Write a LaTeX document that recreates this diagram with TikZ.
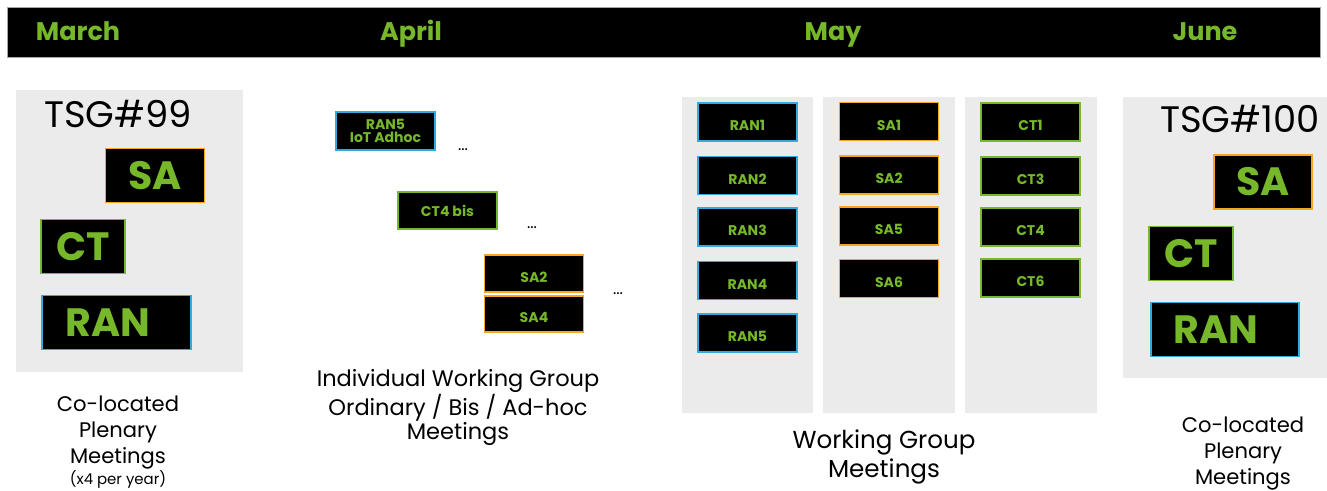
\documentclass[tikz,border=0pt]{standalone}
\usepackage{fontspec}
\setmainfont{Poppins}
\definecolor{nvgreen}{HTML}{76B82A}
\definecolor{saorange}{HTML}{F5A623}
\definecolor{ranblue}{HTML}{35A8E0}
\definecolor{panelgray}{HTML}{EBEBEB}

\begin{document}
\begin{tikzpicture}[x=0.02cm, y=-0.02cm,
 month/.style={text=nvgreen, anchor=base, font=\fontsize{14.5}{16}\selectfont\bfseries},
 wg/.style={draw, fill=black, text=nvgreen, line width=1pt, inner sep=0pt, minimum width=1.98cm, minimum height=0.76cm, font=\fontsize{8}{9.5}\selectfont\bfseries, align=center},
 low/.style={text height=10pt, text depth=0pt},
 ran/.style={wg, low, draw=ranblue}, sa/.style={wg, low, draw=saorange}, ct/.style={wg, low, draw=nvgreen},
 big/.style={font=\fontsize{22.5}{24}\selectfont\bfseries, minimum height=1.08cm, text height=, text depth=},
 tsg/.style={font=\fontsize{21}{24}\selectfont},
 caption/.style={align=center, font=\fontsize{12}{14.8}\selectfont},
 dots/.style={font=\fontsize{9}{10}\selectfont},
 panel/.style={fill=panelgray}]

 \useasboundingbox (0,0) rectangle (1327,490);

 % month bar
 \fill[black, draw=gray!70] (7,7) rectangle (1320,57);
 \node[month] (march) at (78,40) {March};
 \node[month] (april) at (411,40) {April};
 \node[month] (may) at (833,40) {May};
 \node[month] (june) at (1205,40) {June};

 % plenary, March
 \fill[panel] (16,90) rectangle (243,372);
 \node[tsg] (tsg99) at (118,114) {TSG\#99};
 \node[sa, big, minimum width=1.98cm] (plenSAa) at (155,175.5) {SA};
 \node[ct, big, minimum width=1.68cm] (plenCTa) at (83,246.5) {CT};
 \node[ran, big, minimum width=2.98cm] (plenRANa) at (116.5,322.5) {RAN\hspace{0.35cm}};
 \node[caption, anchor=north] (capMarch) at (118,390) {Co-located\\Plenary\\Meetings\\[-3pt]{\fontsize{8.5}{10}\selectfont (x4 per year)}};

 % individual groups, April
 \node[wg, draw=ranblue] (ranIot) at (385.5,131) {RAN5\\[-2pt]IoT Adhoc};
 \node[dots] (dotsA) at (463,150) {...};
 \node[wg, draw=nvgreen, minimum height=0.74cm] (ctBis) at (447.5,210.5) {CT4 bis};
 \node[dots] (dotsB) at (532,228) {...};
 \node[sa, minimum height=0.74cm] (saTwoA) at (534,273.5) {SA2};
 \node[sa, minimum height=0.72cm] (saFourA) at (534,314) {SA4};
 \node[dots] (dotsC) at (618,294) {...};
 \node[caption, anchor=north, font=\fontsize{12.8}{14}\selectfont] (capApril) at (458,363) {Individual Working Group\\Ordinary / Bis / Ad-hoc\\Meetings};

 % working groups, May
 \fill[panel] (682,97) rectangle (813,413);
 \fill[panel] (823,97) rectangle (955,413);
 \fill[panel] (965,97) rectangle (1097,413);
 \node[ran] (ranOne) at (747.5,122) {RAN1};
 \node[ran] (ranTwo) at (747.5,175.5) {RAN2};
 \node[ran] (ranThree) at (747.5,227) {RAN3};
 \node[ran] (ranFour) at (747.5,280.5) {RAN4};
 \node[ran] (ranFive) at (747.5,333) {RAN5};
 \node[sa] (saOne) at (889,121.5) {SA1};
 \node[sa] (saTwo) at (889,175) {SA2};
 \node[sa] (saFive) at (889,226) {SA5};
 \node[sa] (saSix) at (889,278.5) {SA6};
 \node[ct] (ctOne) at (1030.5,122) {CT1};
 \node[ct] (ctThree) at (1030.5,176) {CT3};
 \node[ct] (ctFour) at (1030.5,227) {CT4};
 \node[ct] (ctSix) at (1030.5,278) {CT6};
 \node[caption, anchor=north, font=\fontsize{14}{16}\selectfont] (capMay) at (884,424) {Working Group\\Meetings};

 % plenary, June
 \fill[panel] (1123,97) rectangle (1327,378);
 \node[tsg] (tsg100) at (1240,119) {TSG\#100};
 \node[sa, big, minimum width=1.96cm] (plenSAb) at (1263,182) {SA};
 \node[ct, big, minimum width=1.68cm] (plenCTb) at (1191,253.5) {CT};
 \node[ran, big, minimum width=2.96cm] (plenRANb) at (1225,329.5) {RAN\hspace{0.35cm}};
 \node[caption, anchor=north] (capJune) at (1243,411) {Co-located\\Plenary\\Meetings};
\end{tikzpicture}
\end{document}
